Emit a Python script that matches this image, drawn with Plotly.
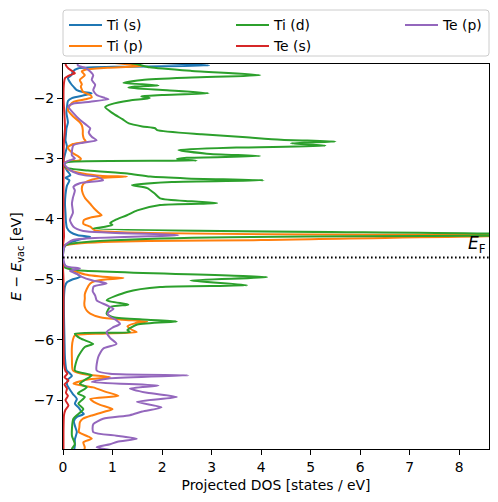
import plotly.graph_objects as go

# ---------------- data (energy in eV, projected DOS in states/eV) ----------------
ti_s_E = [-1.40, -1.44, -1.46, -1.48, -1.51, -1.56, -1.62, -1.67, -1.75, -1.82, -1.87, -1.90, -1.92, -1.95,
          -2.00, -2.05, -2.15, -2.25, -2.40, -2.50, -2.60, -2.70, -2.80, -2.90, -3.00, -3.06, -3.12, -3.20,
          -3.28, -3.32, -3.36, -3.45, -3.60, -3.75, -3.90, -4.05, -4.15, -4.22, -4.27, -4.30, -4.35, -4.40,
          -4.45, -4.55, -4.70, -4.78, -4.85, -4.92, -4.96, -5.00, -5.05, -5.12, -5.30, -5.60, -6.00, -6.30,
          -6.50, -6.56, -6.60, -6.66, -6.74, -6.83, -6.90, -6.98, -7.06, -7.13, -7.20, -7.23, -7.28, -7.35,
          -7.45, -7.53, -7.65, -7.75, -7.85]
ti_s_dos = [1.50, 2.50, 2.95, 1.20, 0.30, 0.20, 0.17, 0.10, 0.15, 0.22, 0.28, 0.40, 0.58, 0.45,
            0.18, 0.10, 0.08, 0.07, 0.10, 0.07, 0.06, 0.05, 0.08, 0.05, 0.02, 0.01, 0.03, 0.08,
            0.15, 0.05, 0.13, 0.08, 0.05, 0.04, 0.05, 0.06, 0.08, 0.15, 0.30, 0.55, 0.30, 0.12,
            0.02, 0.00, 0.00, 0.05, 0.18, 0.30, 0.35, 0.20, 0.08, 0.04, 0.02, 0.02, 0.03, 0.04,
            0.07, 0.14, 0.18, 0.10, 0.08, 0.14, 0.20, 0.28, 0.24, 0.32, 0.38, 0.42, 0.28, 0.22,
            0.25, 0.28, 0.24, 0.24, 0.22]

ti_p_E = [-1.40, -1.44, -1.47, -1.50, -1.53, -1.56, -1.62, -1.70, -1.77, -1.81, -1.90, -1.95, -1.99, -2.02,
          -2.06, -2.12, -2.20, -2.30, -2.40, -2.45, -2.53, -2.60, -2.67, -2.72, -2.76, -2.82, -2.90, -2.96,
          -3.00, -3.03, -3.06, -3.12, -3.18, -3.25, -3.29, -3.30, -3.32, -3.36, -3.42, -3.50, -3.58, -3.66,
          -3.75, -3.82, -3.90, -3.94, -3.98, -4.02, -4.08, -4.13, -4.19, -4.27, -4.35, -4.45, -4.60, -4.78,
          -4.85, -4.92, -4.97, -4.98, -5.00, -5.03, -5.07, -5.16, -5.25, -5.32, -5.40, -5.46, -5.52, -5.57,
          -5.63, -5.67, -5.70, -5.73, -5.78, -5.84, -5.875, -5.90, -5.93, -6.00, -6.12, -6.30, -6.51, -6.57,
          -6.62, -6.66, -6.73, -6.79, -6.86, -6.93, -6.98, -7.03, -7.08, -7.15, -7.19, -7.25, -7.31, -7.37,
          -7.45, -7.53, -7.60, -7.64, -7.70, -7.78, -7.85]
ti_p_dos = [0.80, 1.30, 1.60, 0.90, 0.45, 0.38, 0.44, 0.34, 0.38, 0.36, 0.41, 0.55, 0.58, 0.45,
            0.22, 0.14, 0.10, 0.20, 0.34, 0.38, 0.40, 0.40, 0.42, 0.46, 0.20, 0.10, 0.18, 0.30,
            0.36, 0.34, 0.05, 0.02, 0.10, 0.40, 0.80, 1.29, 0.80, 0.55, 0.41, 0.38, 0.40, 0.45,
            0.55, 0.62, 0.72, 0.78, 0.55, 0.42, 0.41, 0.55, 0.65, 9.50, 4.00, 0.02, 0.00, 0.02,
            0.20, 0.45, 1.00, 1.22, 0.90, 0.65, 0.55, 0.48, 0.44, 0.44, 0.43, 0.44, 0.48, 0.55,
            0.75, 1.20, 1.70, 1.45, 1.30, 1.40, 1.49, 0.80, 0.24, 0.20, 0.18, 0.18, 0.20, 0.40,
            0.95, 0.50, 0.21, 0.61, 0.85, 1.12, 0.55, 0.62, 0.75, 1.00, 0.85, 0.60, 0.40, 0.34,
            0.33, 0.32, 0.50, 0.58, 0.41, 0.44, 0.42]

ti_d_E = [-1.40, -1.44, -1.49, -1.55, -1.62, -1.66, -1.70, -1.75, -1.77, -1.79, -1.81, -1.83, -1.87, -1.92,
          -1.95, -1.97, -2.00, -2.04, -2.10, -2.15, -2.25, -2.35, -2.42, -2.47, -2.50, -2.53, -2.60, -2.65,
          -2.69, -2.72, -2.75, -2.79, -2.82, -2.86, -2.92, -2.96, -2.99, -3.01, -3.035, -3.06, -3.10, -3.15,
          -3.20, -3.25, -3.30, -3.33, -3.36, -3.39, -3.44, -3.49, -3.58, -3.66, -3.71, -3.74, -3.77, -3.86,
          -3.94, -4.02, -4.07, -4.10, -4.13, -4.16, -4.27, -4.44, -4.60, -4.80, -4.85, -4.965, -5.02, -5.10,
          -5.13, -5.21, -5.35, -5.42, -5.46, -5.57, -5.63, -5.67, -5.70, -5.75, -5.84, -5.875, -5.90, -5.98,
          -6.07, -6.12, -6.29, -6.51, -6.59, -6.66, -6.73, -6.79, -6.89, -6.95, -7.06, -7.15, -7.31, -7.59,
          -7.73, -7.81, -7.85]
ti_d_dos = [1.20, 1.50, 1.75, 2.60, 3.98, 2.60, 1.60, 1.22, 1.60, 1.93, 1.45, 1.32, 2.10, 2.94,
            2.00, 1.58, 1.75, 1.35, 0.98, 0.85, 1.00, 1.20, 1.33, 1.60, 1.86, 1.90, 2.80, 3.70,
            4.40, 5.50, 4.60, 5.30, 3.50, 2.33, 2.90, 3.98, 2.50, 2.30, 2.70, 0.10, 0.02, 0.05,
            0.50, 1.30, 1.76, 2.50, 4.05, 2.20, 1.39, 1.70, 1.85, 1.96, 2.60, 3.11, 1.96, 1.50,
            1.29, 1.05, 0.95, 1.00, 0.85, 0.61, 10.50, 0.05, 0.00, 0.02, 0.30, 4.12, 2.57, 3.72,
            1.96, 1.29, 0.88, 1.32, 0.95, 0.88, 1.02, 1.70, 2.30, 1.50, 1.30, 1.35, 0.24, 0.35,
            0.61, 0.44, 0.30, 0.24, 0.58, 0.45, 0.34, 0.48, 0.30, 0.44, 0.31, 0.41, 0.21, 0.18,
            0.24, 0.18, 0.20]

te_s_E = [-1.40, -1.46, -1.51, -1.56, -1.59, -1.62, -1.67, -1.75, -2.00, -2.30, -2.50, -2.70, -3.00, -3.30,
          -4.00, -4.30, -4.45, -4.80, -5.00, -5.50, -6.00, -6.40, -6.52, -6.56, -6.62, -6.68, -6.74, -6.81,
          -6.88, -6.93, -7.00, -7.09, -7.16, -7.25, -7.50, -7.85]
te_s_dos = [0.05, 0.06, 0.11, 0.20, 0.24, 0.14, 0.04, 0.02, 0.01, 0.03, 0.04, 0.02, 0.01, 0.01,
            0.01, 0.02, 0.00, 0.00, 0.01, 0.01, 0.01, 0.02, 0.05, 0.09, 0.03, 0.11, 0.03, 0.08,
            0.06, 0.10, 0.05, 0.11, 0.05, 0.02, 0.01, 0.01]

te_p_E = [-1.40, -1.46, -1.50, -1.56, -1.62, -1.70, -1.78, -1.87, -1.95, -2.00, -2.02, -2.06, -2.09, -2.14,
          -2.25, -2.36, -2.45, -2.50, -2.57, -2.64, -2.70, -2.74, -2.78, -2.88, -2.95, -3.00, -3.03, -3.08,
          -3.15, -3.22, -3.28, -3.30, -3.36, -3.41, -3.47, -3.53, -3.65, -3.75, -3.90, -4.02, -4.13, -4.20,
          -4.27, -4.35, -4.44, -4.60, -4.78, -4.82, -4.86, -4.92, -4.96, -5.02, -5.07, -5.12, -5.20, -5.27,
          -5.35, -5.43, -5.49, -5.56, -5.62, -5.68, -5.74, -5.80, -5.875, -5.97, -6.07, -6.15, -6.29, -6.51,
          -6.565, -6.59, -6.64, -6.70, -6.76, -6.81, -6.88, -6.95, -7.03, -7.12, -7.19, -7.25, -7.31, -7.40,
          -7.53, -7.59, -7.64, -7.69, -7.73, -7.78, -7.82, -7.86]
te_p_dos = [0.30, 0.30, 0.45, 0.55, 0.61, 0.58, 0.65, 0.61, 0.68, 0.85, 0.92, 0.55, 0.21, 0.11,
            0.21, 0.34, 0.48, 0.55, 0.52, 0.58, 0.68, 0.40, 0.21, 0.18, 0.18, 0.24, 0.14, 0.03,
            0.08, 0.20, 0.44, 0.68, 0.81, 0.34, 0.21, 0.24, 0.20, 0.18, 0.20, 0.14, 0.21, 0.41,
            2.33, 0.20, 0.04, 0.00, 0.05, 0.34, 0.14, 0.30, 0.38, 0.60, 0.88, 0.62, 0.60, 0.65,
            0.68, 0.88, 1.02, 0.90, 0.95, 1.08, 1.15, 1.00, 0.88, 0.95, 1.08, 0.81, 0.71, 0.68,
            0.95, 2.53, 0.95, 0.58, 1.93, 1.35, 1.70, 2.30, 1.49, 1.99, 1.60, 1.35, 0.81, 0.61,
            0.61, 1.08, 1.49, 1.10, 0.95, 0.68, 0.90, 1.30]

e_fermi = -4.64

series = [
    ("Ti (s)", ti_s_E, ti_s_dos, "#1f77b4", "legend"),
    ("Ti (p)", ti_p_E, ti_p_dos, "#ff7f0e", "legend2"),
    ("Ti (d)", ti_d_E, ti_d_dos, "#2ca02c", "legend3"),
    ("Te (s)", te_s_E, te_s_dos, "#d62728", "legend4"),
    ("Te (p)", te_p_E, te_p_dos, "#9467bd", "legend5"),
]

FONT = "DejaVu Sans"
FS = 13.9

fig = go.Figure()
for name, E, dos, color, leg in series:
    fig.add_trace(go.Scatter(
        x=dos, y=E, mode="lines", name=name,
        line=dict(color=color, width=2, shape="spline", smoothing=0.6),
        legend=leg, cliponaxis=True,
    ))

# Fermi level
fig.add_shape(type="line", xref="paper", x0=0, x1=1, yref="y", y0=e_fermi, y1=e_fermi,
              line=dict(color="black", width=2, dash="1.6px,2.4px"), layer="above")
fig.add_annotation(xref="paper", x=0.997, yref="y", y=e_fermi, xanchor="right", yanchor="bottom",
                   yshift=0, text="<i>E</i><sub>F</sub>", showarrow=False,
                   font=dict(family=FONT, size=17, color="black"))

# legend frame
pw, ph = 426.0, 385.0
rx, ry = 3 / pw, 3 / ph
x0, x1 = 0.0, 1.0
y0, y1 = 1 + (64 - 56) / ph, 1 + (64 - 10) / ph
path = (f"M{x0+rx},{y0} L{x1-rx},{y0} Q{x1},{y0} {x1},{y0+ry} L{x1},{y1-ry} Q{x1},{y1} {x1-rx},{y1} "
        f"L{x0+rx},{y1} Q{x0},{y1} {x0},{y1-ry} L{x0},{y0+ry} Q{x0},{y0} {x0+rx},{y0} Z")
fig.add_shape(type="path", xref="paper", yref="paper", path=path,
              line=dict(color="#cccccc", width=1), fillcolor="rgba(255,255,255,0.8)", layer="below")

leg_common = dict(orientation="v", yanchor="top", xanchor="left", bgcolor="rgba(0,0,0,0)",
                  borderwidth=0, font=dict(family=FONT, size=FS, color="black"),
                  itemwidth=33, tracegroupgap=0)
row1 = 1 + (64 - 9.5) / ph
row2 = 1 + (64 - 30.5) / ph
col1, col2, col3 = (64 - 63) / pw, (231 - 63) / pw, (400 - 63) / pw

axis_common = dict(showline=True, linecolor="black", linewidth=1.1, mirror=True,
                   ticks="outside", ticklen=5, tickwidth=1.1, tickcolor="black",
                   showgrid=False, zeroline=False, automargin=False,
                   tickfont=dict(family=FONT, size=FS, color="black"))

# the page body adds an 8 px offset, so the figure is laid out 8 px up/left of the target
fig.update_layout(
    width=482, height=486,
    margin=dict(l=55, r=1, t=56, b=45, autoexpand=False),
    plot_bgcolor="white", paper_bgcolor="white",
    font=dict(family=FONT, size=FS, color="black"),
    showlegend=True,
    legend=dict(**leg_common, x=col1, y=row1),
    legend2=dict(**leg_common, x=col1, y=row2),
    legend3=dict(**leg_common, x=col2, y=row1),
    legend4=dict(**leg_common, x=col2, y=row2),
    legend5=dict(**leg_common, x=col3, y=row1),
    xaxis=dict(**axis_common, range=[0, 8.6], tickvals=[0, 1, 2, 3, 4, 5, 6, 7, 8],
               title=dict(text="Projected DOS [states / eV]", font=dict(family=FONT, size=FS), standoff=6)),
    yaxis=dict(**axis_common, range=[-7.81, -1.436], tickvals=[-2, -3, -4, -5, -6, -7],
               title=dict(text="<i>E</i> − <i>E</i><sub>vac</sub> [eV]", font=dict(family=FONT, size=FS), standoff=10)),
)

fig.write_html("out.html")
